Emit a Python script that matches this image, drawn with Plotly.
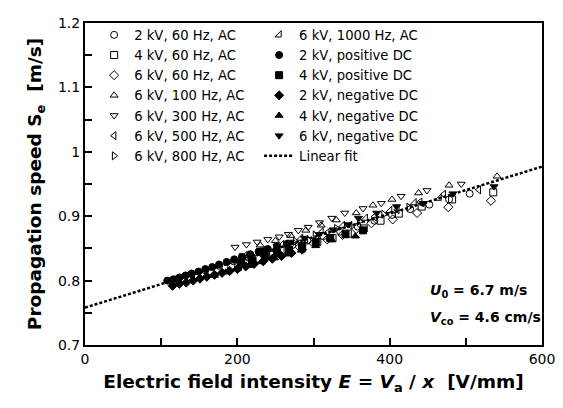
import plotly.graph_objects as go

# ---- data ----
ac2_60_x = [122, 140, 158, 176, 195, 214, 233, 252, 272, 292, 313, 335, 358, 380, 403, 427, 452, 478, 505]
ac2_60_y = [0.803, 0.810, 0.816, 0.823, 0.830, 0.836, 0.842, 0.848, 0.855, 0.862, 0.869, 0.876, 0.884, 0.893, 0.902, 0.911, 0.918, 0.926, 0.935]

ac4_60_x = [192, 210, 228, 247, 266, 285, 305, 325, 345, 366, 388, 412, 442, 482, 536]
ac4_60_y = [0.822, 0.828, 0.834, 0.840, 0.847, 0.853, 0.860, 0.866, 0.873, 0.881, 0.893, 0.904, 0.915, 0.926, 0.937]

ac6_60_x = [282, 300, 318, 338, 356, 376, 404, 436, 477, 533]
ac6_60_y = [0.852, 0.858, 0.864, 0.871, 0.880, 0.889, 0.895, 0.905, 0.914, 0.924]

ac6_100_x = [230, 250, 270, 290, 310, 330, 356, 378, 403, 438, 478, 541]
ac6_100_y = [0.855, 0.862, 0.870, 0.878, 0.886, 0.894, 0.905, 0.917, 0.926, 0.936, 0.948, 0.962]

ac6_300_x = [197, 212, 226, 240, 255, 267, 280, 293, 308, 324, 341, 365, 389, 415, 449, 494]
ac6_300_y = [0.852, 0.856, 0.860, 0.864, 0.868, 0.872, 0.878, 0.883, 0.890, 0.897, 0.905, 0.912, 0.920, 0.931, 0.940, 0.950]

ac6_500_x = [215, 240, 265, 290, 318, 348, 380, 410, 440, 471, 517]
ac6_500_y = [0.838, 0.846, 0.855, 0.864, 0.874, 0.886, 0.899, 0.910, 0.922, 0.934, 0.941]

ac6_800_x = [205, 228, 252, 276, 302, 330, 360, 392, 425]
ac6_800_y = [0.836, 0.844, 0.852, 0.861, 0.871, 0.881, 0.892, 0.903, 0.914]

ac6_1000_x = [210, 234, 258, 283, 310, 338, 368, 400, 432, 465]
ac6_1000_y = [0.839, 0.847, 0.856, 0.866, 0.876, 0.886, 0.897, 0.909, 0.921, 0.928]

pdc2_x = [108, 116, 124, 132, 140, 149, 158, 167, 176, 186, 196, 206, 217, 228, 240, 252, 265]
pdc2_y = [0.800, 0.802, 0.805, 0.808, 0.811, 0.814, 0.818, 0.821, 0.825, 0.829, 0.833, 0.837, 0.841, 0.845, 0.849, 0.853, 0.857]

pdc4_x = [205, 220, 236, 252, 268, 285, 303, 322, 342, 365]
pdc4_y = [0.826, 0.831, 0.837, 0.843, 0.848, 0.854, 0.860, 0.866, 0.872, 0.878]

ndc2_x = [115, 124, 133, 142, 151, 160, 170, 180, 190, 200, 211, 222, 234, 246, 258, 271, 285]
ndc2_y = [0.792, 0.795, 0.797, 0.800, 0.803, 0.806, 0.809, 0.812, 0.815, 0.818, 0.822, 0.826, 0.830, 0.834, 0.838, 0.843, 0.848]

ndc4_x = [170, 185, 200, 216, 232, 249, 266, 284, 303, 324, 355]
ndc4_y = [0.808, 0.813, 0.818, 0.823, 0.829, 0.835, 0.841, 0.847, 0.854, 0.863, 0.869]

ndc6_x = [235, 252, 270, 288, 307, 326, 345, 359, 383, 409, 444, 483, 537]
ndc6_y = [0.848, 0.854, 0.860, 0.866, 0.872, 0.879, 0.887, 0.897, 0.905, 0.915, 0.920, 0.935, 0.946]

fit_x = [0, 600]
fit_y = [0.758, 0.977]

FONT = "DejaVu Sans, Liberation Sans, Arial, sans-serif"

series = [
    ("2 kV, 60 Hz, AC", ac2_60_x, ac2_60_y, "circle-open", "legend"),
    ("4 kV, 60 Hz, AC", ac4_60_x, ac4_60_y, "square-open", "legend"),
    ("6 kV, 60 Hz, AC", ac6_60_x, ac6_60_y, "diamond-open", "legend"),
    ("6 kV, 100 Hz, AC", ac6_100_x, ac6_100_y, "triangle-up-open", "legend"),
    ("6 kV, 300 Hz, AC", ac6_300_x, ac6_300_y, "triangle-down-open", "legend"),
    ("6 kV, 500 Hz, AC", ac6_500_x, ac6_500_y, "triangle-left-open", "legend"),
    ("6 kV, 800 Hz, AC", ac6_800_x, ac6_800_y, "triangle-right-open", "legend"),
    ("6 kV, 1000 Hz, AC", ac6_1000_x, ac6_1000_y, "triangle-se-open", "legend2"),
    ("2 kV, positive DC", pdc2_x, pdc2_y, "circle", "legend2"),
    ("4 kV, positive DC", pdc4_x, pdc4_y, "square", "legend2"),
    ("2 kV, negative DC", ndc2_x, ndc2_y, "diamond", "legend2"),
    ("4 kV, negative DC", ndc4_x, ndc4_y, "triangle-up", "legend2"),
    ("6 kV, negative DC", ndc6_x, ndc6_y, "triangle-down", "legend2"),
]

fig = go.Figure()

fig.add_trace(go.Scatter(
    x=fit_x, y=fit_y, mode="lines", name="Linear fit",
    line=dict(color="black", width=2.5, dash="3px,2px"),
    legend="legend2", legendrank=2000,
))

for i, (name, xs, ys, sym, lg) in enumerate(series):
    fig.add_trace(go.Scatter(
        x=xs, y=ys, mode="markers", name=name,
        marker=dict(symbol=sym, size=7, color="black",
                    line=dict(color="black", width=1)),
        legend=lg, legendrank=100 + i,
    ))

axis_common = dict(
    showline=True, linecolor="black", linewidth=2, mirror=True,
    ticks="inside", ticklen=7, tickwidth=1.5, tickcolor="black",
    showgrid=False, zeroline=False, automargin=False,
    tickfont=dict(family=FONT, size=14, color="black"),
)

fig.update_xaxes(
    range=[0, 600], tick0=0, dtick=200,
    minor=dict(ticks="inside", ticklen=7, tickwidth=1.5, tickcolor="black", dtick=100),
    title=dict(text="<b>Electric field intensity <i>E</i> = <i>V</i><sub>a</sub> / <i>x</i>  [V/mm]</b>",
               font=dict(family=FONT, size=18.5, color="black"), standoff=9),
    **axis_common,
)
fig.update_yaxes(
    range=[0.7, 1.2], tick0=0.7, dtick=0.1,
    minor=dict(ticks="inside", ticklen=7, tickwidth=1.5, tickcolor="black", dtick=0.05),
    title=dict(text="<b>Propagation speed S<sub>e</sub>  [m/s]</b>",
               font=dict(family=FONT, size=18.5, color="black"), standoff=11),
    **axis_common,
)

legend_font = dict(family=FONT, size=13.2, color="black")
# The page body has an 8 px margin, so the figure is 8 px smaller and the margins 8 px less.
fig.update_layout(
    width=555, height=400,
    margin=dict(l=77, r=21, t=12, b=63),
    paper_bgcolor="white", plot_bgcolor="white",
    font=dict(family=FONT, size=14, color="black"),
    legend=dict(x=0.02, y=1.01, xanchor="left", yanchor="top",
                bgcolor="rgba(0,0,0,0)", font=legend_font, tracegroupgap=0),
    legend2=dict(x=0.381, y=1.01, xanchor="left", yanchor="top",
                 bgcolor="rgba(0,0,0,0)", font=legend_font, tracegroupgap=0),
    annotations=[
        dict(x=0.75, y=0.168, xref="paper", yref="paper", xanchor="left", yanchor="middle",
             text="<b><i>U</i><sub>0</sub> = 6.7 m/s</b>", showarrow=False,
             font=dict(family=FONT, size=14, color="black")),
        dict(x=0.75, y=0.085, xref="paper", yref="paper", xanchor="left", yanchor="middle",
             text="<b><i>V</i><sub>co</sub> = 4.6 cm/s</b>", showarrow=False,
             font=dict(family=FONT, size=14, color="black")),
    ],
)

fig.write_html("out.html")
